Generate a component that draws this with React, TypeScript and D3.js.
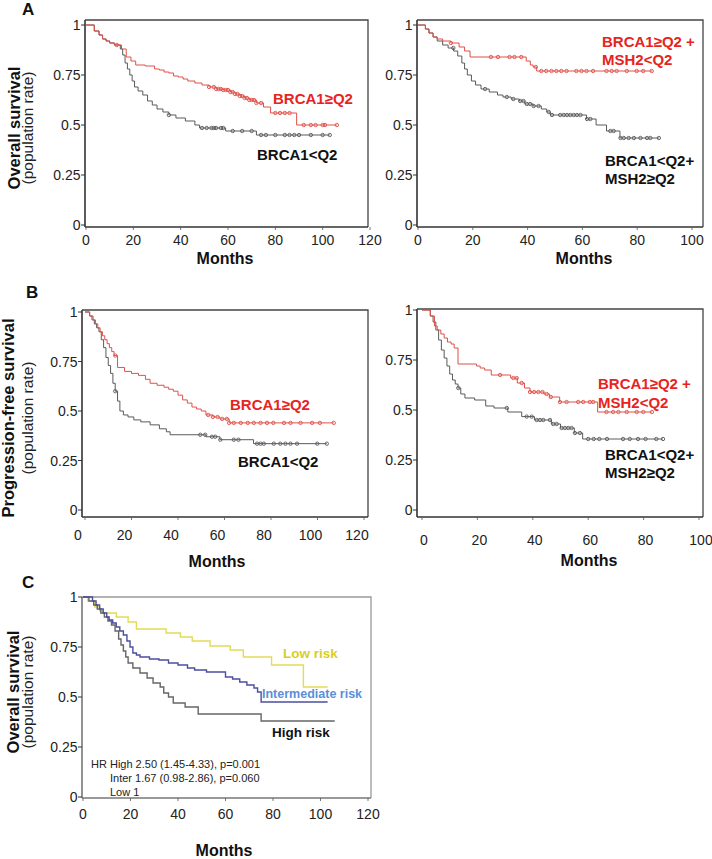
import React from "react";
import * as d3 from "d3";

// ---------- DATA ----------
// Panel A left (Overall survival, BRCA1)
const aLeftHighT = [0, 3.5, 5.5, 7, 8.5, 10, 12, 15, 17, 19, 21, 25, 29, 31, 33, 35, 37, 39, 41, 43, 46, 49, 52, 55, 58, 61, 63, 65, 67, 69, 72, 75, 78, 89];
const aLeftHighS = [1, 0.97, 0.95, 0.93, 0.92, 0.91, 0.9, 0.88, 0.84, 0.82, 0.8, 0.795, 0.78, 0.775, 0.765, 0.76, 0.745, 0.74, 0.73, 0.72, 0.71, 0.7, 0.69, 0.68, 0.675, 0.665, 0.655, 0.645, 0.635, 0.625, 0.61, 0.59, 0.56, 0.5];
const aLeftHighEnd = 106;
const aLeftHighCens = [13, 52, 54, 55, 56, 57, 58, 59, 60, 61, 62, 63, 64, 65, 66, 67, 68, 69, 70, 71, 72, 74, 80, 82, 84, 86, 92, 95, 97, 100, 101, 106];
const aLeftLowT = [0, 3.5, 5.5, 7, 8.5, 10, 12, 14.5, 15.5, 16.5, 17.5, 18.5, 19.5, 20.5, 22, 24, 26, 28, 30, 32.5, 35, 38, 42, 46, 48, 59, 72];
const aLeftLowS = [1, 0.97, 0.95, 0.93, 0.92, 0.91, 0.9, 0.88, 0.85, 0.81, 0.78, 0.75, 0.72, 0.69, 0.67, 0.65, 0.62, 0.6, 0.58, 0.565, 0.55, 0.535, 0.52, 0.5, 0.485, 0.47, 0.45];
const aLeftLowEnd = 103;
const aLeftLowCens = [35, 49, 51, 53, 54, 55, 57, 58, 62, 66, 70, 74, 76, 80, 84, 86, 88, 90, 95, 100, 103];

// Panel A right (Overall survival, BRCA1 + MSH2)
const aRightHighT = [0, 2.7, 4, 5.5, 7, 9, 12, 15, 17, 19, 39.5, 41, 42, 43.3];
const aRightHighS = [1, 0.98, 0.96, 0.94, 0.93, 0.92, 0.91, 0.89, 0.87, 0.84, 0.82, 0.8, 0.79, 0.77];
const aRightHighEnd = 85.5;
const aRightHighCens = [12, 26.6, 29.2, 33.4, 35.2, 37.7, 43, 45, 46.8, 48.7, 50.5, 52.3, 54.2, 57.8, 59.7, 61.5, 63.9, 68.8, 70.7, 72.5, 76.2, 79.8, 82.2, 85.3];
const aRightLowT = [0, 2.7, 4, 5.5, 7, 9, 11, 13, 14.5, 16, 17, 18, 19.5, 21, 23, 26, 29, 31, 34, 37, 39, 42, 45, 47, 48.3, 61.5, 65, 68.8, 73.7];
const aRightLowS = [1, 0.98, 0.96, 0.94, 0.92, 0.9, 0.885, 0.87, 0.845, 0.81, 0.78, 0.75, 0.72, 0.7, 0.68, 0.665, 0.65, 0.64, 0.63, 0.62, 0.605, 0.595, 0.58, 0.565, 0.55, 0.53, 0.5, 0.47, 0.435];
const aRightLowEnd = 88;
const aRightLowCens = [12.9, 24.5, 32.4, 34.8, 37.3, 38.5, 39.7, 40.9, 42.2, 44, 47.7, 48.9, 51.9, 53.2, 54.4, 55.6, 56.8, 58, 59.3, 61.7, 62.9, 70.2, 71.4, 73.9, 75.1, 76.9, 78.8, 81.2, 83.6, 84.8, 87.9];

// Panel B left (Progression-free survival, BRCA1)
const bLeftHighT = [0, 2, 3.5, 4.5, 5.5, 6.5, 7.5, 8.5, 9.5, 10.5, 11.5, 12.5, 14, 17, 20, 23, 26, 28, 31, 34, 36, 38, 40, 42, 44, 46, 48, 50, 52, 55, 58, 62];
const bLeftHighS = [1, 0.98, 0.96, 0.94, 0.92, 0.9, 0.88, 0.86, 0.84, 0.82, 0.8, 0.78, 0.72, 0.7, 0.69, 0.68, 0.66, 0.64, 0.63, 0.62, 0.61, 0.6, 0.58, 0.556, 0.54, 0.52, 0.51, 0.5, 0.48, 0.47, 0.46, 0.44];
const bLeftHighEnd = 107;
const bLeftHighCens = [13, 53, 55, 57, 59, 61, 62, 64, 67, 70, 72.6, 75.5, 78.3, 81, 85.6, 88.4, 92.7, 97.7, 101, 107];
const bLeftLowT = [0, 2, 3, 4, 5, 6, 7, 8, 9, 10, 11, 12, 13, 14, 15, 16.5, 18.5, 21, 24, 28, 32, 35, 36.6, 52, 58, 72.5];
const bLeftLowS = [1, 0.98, 0.96, 0.94, 0.92, 0.9, 0.86, 0.82, 0.77, 0.73, 0.69, 0.64, 0.6, 0.55, 0.5, 0.48, 0.47, 0.455, 0.445, 0.43, 0.41, 0.395, 0.38, 0.37, 0.355, 0.335];
const bLeftLowEnd = 104;
const bLeftLowCens = [13, 49.6, 51.7, 54.6, 56, 58.2, 64, 66, 74, 75.5, 76.9, 81.2, 84, 86.2, 88.4, 91.2, 99.9, 104];

// Panel B right (Progression-free survival, BRCA1 + MSH2)
const bRightHighT = [0, 3, 4.5, 5.5, 6.8, 8, 9.2, 10.5, 11.6, 13, 19.7, 21, 22.6, 25, 32, 34.4, 37, 39, 44, 46, 49.7, 63.4];
const bRightHighS = [1, 0.97, 0.92, 0.9, 0.88, 0.86, 0.84, 0.83, 0.81, 0.73, 0.72, 0.71, 0.7, 0.675, 0.66, 0.635, 0.61, 0.59, 0.58, 0.565, 0.54, 0.49];
const bRightHighEnd = 83;
const bRightHighCens = [28.2, 33, 34.2, 36, 39, 40.5, 42, 43.5, 45, 46.5, 49.8, 52.2, 56.4, 58.2, 60.6, 61.8, 66.6, 69, 70.9, 73.9, 77.5, 79.9, 83];
const bRightLowT = [0, 3, 4, 5, 6, 7, 8, 9, 10, 11, 12, 13, 14, 15.5, 19, 23, 26, 31, 36, 40.6, 46.7, 50, 55, 58];
const bRightLowS = [1, 0.97, 0.94, 0.9, 0.85, 0.8, 0.76, 0.72, 0.68, 0.65, 0.63, 0.61, 0.58, 0.56, 0.55, 0.52, 0.51, 0.49, 0.467, 0.45, 0.43, 0.41, 0.385, 0.355];
const bRightLowEnd = 87;
const bRightLowCens = [13.1, 30.6, 37.8, 39.6, 41.4, 42.6, 43.8, 46.2, 47.4, 48.6, 50.4, 51.6, 52.8, 54, 55.2, 57, 60, 62, 64, 66.8, 72.6, 75, 78, 80.7, 84.6, 87];

// Panel C (Overall survival by risk group)
const cLowT = [0, 2, 5, 7, 8.5, 14, 19, 22.5, 35, 41, 46, 53.5, 62, 67.5, 79.4, 92.8];
const cLowS = [1, 0.98, 0.95, 0.93, 0.92, 0.9, 0.875, 0.84, 0.82, 0.8, 0.78, 0.755, 0.735, 0.7, 0.66, 0.55];
const cLowEnd = 103;
const cInterT = [0, 4, 5.5, 7, 8.5, 10, 11, 12.5, 14, 15.5, 17, 18.5, 19.8, 21, 22.5, 24, 28, 32, 36, 40, 44, 47, 52, 60, 63, 66, 69, 72, 73.5, 75];
const cInterS = [1, 0.98, 0.96, 0.94, 0.92, 0.9, 0.885, 0.87, 0.85, 0.83, 0.81, 0.78, 0.75, 0.72, 0.71, 0.7, 0.69, 0.685, 0.67, 0.66, 0.645, 0.635, 0.625, 0.6, 0.59, 0.575, 0.56, 0.545, 0.525, 0.475];
const cInterEnd = 103;
const cHighT = [0, 2.5, 4.5, 6, 7.5, 9, 10.5, 12, 13.5, 15, 16, 17, 18, 19, 21, 24, 27, 29.5, 32.5, 34, 36, 38, 43, 48.5, 75];
const cHighS = [1, 0.98, 0.96, 0.94, 0.92, 0.9, 0.88, 0.86, 0.83, 0.79, 0.76, 0.73, 0.7, 0.67, 0.645, 0.62, 0.595, 0.57, 0.55, 0.52, 0.5, 0.47, 0.45, 0.415, 0.38];
const cHighEnd = 106;

const yTicks = [0, 0.25, 0.5, 0.75, 1];
const yTickLabels = ["0", "0.25", "0.5", "0.75", "1"];
const xTicks120 = [0, 20, 40, 60, 80, 100, 120];
const xTicks100 = [0, 20, 40, 60, 80, 100];
const hrLines = ["HR High 2.50 (1.45-4.33), p=0.001", "Inter 1.67 (0.98-2.86), p=0.060", "Low 1"];

// ---------- STYLE ----------
const FONT = "'Liberation Sans', Arial, Helvetica, sans-serif";
const RED_LINE = "#e0504a";
const RED_TEXT = "#e8231e";
const GRAY_LINE = "#5a5a5a";
const YEL_LINE = "#e2dc55";
const YEL_TEXT = "#d8cf22";
const BLUE_LINE = "#4b4f9e";
const BLUE_TEXT = "#5b8fd8";

type Curve = { t: number[]; s: number[]; end: number; cens?: number[]; color: string; width?: number };
type Panel = {
  key: string;
  xmax: number;
  xr: [number, number];
  yr: [number, number];
  frame: { l: number; t: number; r: number; b: number };
  ticks: number[];
  tickLabelY: number;
  tickLabelDx: number;
  monthsX: number;
  monthsY: number;
  curves: Curve[];
  frameColor?: string;
};

const panels: Panel[] = [
  {
    key: "A1", xmax: 120, xr: [86, 370], yr: [225, 25], frame: { l: 85, t: 20, r: 368, b: 227 },
    ticks: xTicks120, tickLabelY: 245, tickLabelDx: 0, monthsX: 225, monthsY: 264,
    curves: [
      { t: aLeftLowT, s: aLeftLowS, end: aLeftLowEnd, cens: aLeftLowCens, color: GRAY_LINE },
      { t: aLeftHighT, s: aLeftHighS, end: aLeftHighEnd, cens: aLeftHighCens, color: RED_LINE },
    ],
  },
  {
    key: "A2", xmax: 100, xr: [418, 692], yr: [225, 25], frame: { l: 417, t: 20, r: 703, b: 227 },
    ticks: xTicks100, tickLabelY: 245, tickLabelDx: 0, monthsX: 584, monthsY: 264,
    curves: [
      { t: aRightLowT, s: aRightLowS, end: aRightLowEnd, cens: aRightLowCens, color: GRAY_LINE },
      { t: aRightHighT, s: aRightHighS, end: aRightHighEnd, cens: aRightHighCens, color: RED_LINE },
    ],
  },
  {
    key: "B1", xmax: 120, xr: [85, 364], yr: [510, 312], frame: { l: 82, t: 310, r: 368, b: 517 },
    ticks: xTicks120, tickLabelY: 540, tickLabelDx: -7, monthsX: 217, monthsY: 567,
    curves: [
      { t: bLeftLowT, s: bLeftLowS, end: bLeftLowEnd, cens: bLeftLowCens, color: GRAY_LINE },
      { t: bLeftHighT, s: bLeftHighS, end: bLeftHighEnd, cens: bLeftHighCens, color: RED_LINE },
    ],
  },
  {
    key: "B2", xmax: 100, xr: [422, 699], yr: [510, 310], frame: { l: 417, t: 309, r: 703, b: 517 },
    ticks: xTicks100, tickLabelY: 545, tickLabelDx: 2, monthsX: 589, monthsY: 566,
    curves: [
      { t: bRightLowT, s: bRightLowS, end: bRightLowEnd, cens: bRightLowCens, color: GRAY_LINE },
      { t: bRightHighT, s: bRightHighS, end: bRightHighEnd, cens: bRightHighCens, color: RED_LINE },
    ],
  },
  {
    key: "C", xmax: 120, xr: [83, 368], yr: [797, 597], frame: { l: 82, t: 597, r: 371, b: 798 },
    ticks: xTicks120, tickLabelY: 819, tickLabelDx: 0, monthsX: 224, monthsY: 856, frameColor: "#777",
    curves: [
      { t: cLowT, s: cLowS, end: cLowEnd, color: YEL_LINE, width: 1.4 },
      { t: cHighT, s: cHighS, end: cHighEnd, color: "#666", width: 1.4 },
      { t: cInterT, s: cInterS, end: cInterEnd, color: BLUE_LINE, width: 1.4 },
    ],
  },
];

function PanelView({ p }: { p: Panel }) {
  const x = d3.scaleLinear().domain([0, p.xmax]).range(p.xr);
  const y = d3.scaleLinear().domain([0, 1]).range(p.yr);
  const line = d3
    .line<[number, number]>()
    .x((d) => x(d[0]))
    .y((d) => y(d[1]))
    .curve(d3.curveStepAfter);
  const fc = p.frameColor || "#333";
  const { l, t, r, b } = p.frame;
  return (
    <g>
      <path d={`M${l},${t}H${r}V${b}`} fill="none" stroke={p.frameColor ? "#999" : "#444"} strokeWidth={1.3} />
      <line x1={l} y1={t} x2={l} y2={b} stroke={fc} strokeWidth={1.6} />
      <line x1={l} y1={b} x2={r} y2={b} stroke={fc} strokeWidth={1.6} />
      {yTicks.map((v, i) => (
        <g key={"y" + i}>
          <line x1={l - 4} x2={l} y1={y(v)} y2={y(v)} stroke="#333" strokeWidth={1} />
          <text x={l - 4.5} y={y(v) + 5} textAnchor="end" fontSize={14} fontFamily={FONT} fill="#222">
            {yTickLabels[i]}
          </text>
        </g>
      ))}
      {p.ticks.map((v) => (
        <g key={"x" + v}>
          <line x1={x(v)} x2={x(v)} y1={b} y2={b + 3} stroke="#555" strokeWidth={0.8} />
          <text x={x(v) + p.tickLabelDx} y={p.tickLabelY} textAnchor="middle" fontSize={14} fontFamily={FONT} fill="#222">
            {v}
          </text>
        </g>
      ))}
      <text x={p.monthsX} y={p.monthsY} textAnchor="middle" fontSize={16} fontWeight="bold" fontFamily={FONT} fill="#111">
        Months
      </text>
      {p.curves.map((c, ci) => {
        const pts: [number, number][] = c.t.map((tt, i) => [tt, c.s[i]] as [number, number]);
        pts.push([c.end, c.s[c.s.length - 1]]);
        return (
          <g key={"c" + ci}>
            <path d={line(pts) || ""} fill="none" stroke={c.color} strokeWidth={c.width || 1} />
            {(c.cens || []).map((ct, k) => {
              const idx = Math.max(0, d3.bisectRight(c.t, ct) - 1);
              return (
                <circle key={k} cx={x(ct)} cy={y(c.s[idx])} r={1.7} fill="none" stroke={c.color} strokeWidth={0.9} />
              );
            })}
          </g>
        );
      })}
    </g>
  );
}

function VTitle({ x1, x2, cy, bold, sub, size = 16.5 }: { x1: number; x2: number; cy: number; bold: string; sub: string; size?: number }) {
  return (
    <g>
      <text transform={`translate(${x1},${cy}) rotate(-90)`} textAnchor="middle" fontSize={size} fontWeight="bold" fontFamily={FONT} fill="#111">
        {bold}
      </text>
      <text transform={`translate(${x2},${cy}) rotate(-90)`} textAnchor="middle" fontSize={15.5} fontFamily={FONT} fill="#222">
        {sub}
      </text>
    </g>
  );
}

export default function App() {
  const lbl = (x: number, y: number, txt: string, color: string, size = 15) => (
    <text x={x} y={y} fontSize={size} fontWeight="bold" fontFamily={FONT} fill={color}>
      {txt}
    </text>
  );
  return (
    <svg width={712} height={859} style={{ position: "absolute", left: 0, top: 0, background: "#fff" }}>
      <rect width={712} height={859} fill="#fff" />
      {panels.map((p) => (
        <PanelView key={p.key} p={p} />
      ))}
      <text x={22} y={15} fontSize={17} fontWeight="bold" fontFamily={FONT} fill="#111">A</text>
      <text x={26} y={298} fontSize={17} fontWeight="bold" fontFamily={FONT} fill="#111">B</text>
      <text x={22} y={588} fontSize={17} fontWeight="bold" fontFamily={FONT} fill="#111">C</text>
      <VTitle x1={20} x2={33} cy={128} bold="Overall survival" sub="(population rate)" />
      <VTitle x1={14} x2={33} cy={418} bold="Progression-free survival" sub="(population rate)" />
      <VTitle x1={19} x2={33} cy={692} bold="Overall survival" sub="(population rate)" />
      {lbl(273, 104, "BRCA1≥Q2", RED_TEXT)}
      {lbl(257, 160, "BRCA1<Q2", "#111")}
      {lbl(602, 47, "BRCA1≥Q2 +", RED_TEXT)}
      {lbl(602, 65, "MSH2<Q2", RED_TEXT)}
      {lbl(605, 166, "BRCA1<Q2+", "#111")}
      {lbl(605, 184, "MSH2≥Q2", "#111")}
      {lbl(230, 410, "BRCA1≥Q2", RED_TEXT)}
      {lbl(238, 467, "BRCA1<Q2", "#111")}
      {lbl(598, 389, "BRCA1≥Q2 +", RED_TEXT)}
      {lbl(598, 408, "MSH2<Q2", RED_TEXT)}
      {lbl(605, 460, "BRCA1<Q2+", "#111")}
      {lbl(605, 478, "MSH2≥Q2", "#111")}
      {lbl(283, 658, "Low risk", YEL_TEXT, 13.5)}
      {lbl(262, 698, "Intermediate risk", BLUE_TEXT, 12.5)}
      {lbl(272, 737, "High risk", "#111", 13.5)}
      {hrLines.map((s, i) => (
        <text key={i} x={i === 0 ? 91 : 110} y={768 + i * 14} fontSize={11} fontFamily={FONT} fill="#222">
          {s}
        </text>
      ))}
    </svg>
  );
}
